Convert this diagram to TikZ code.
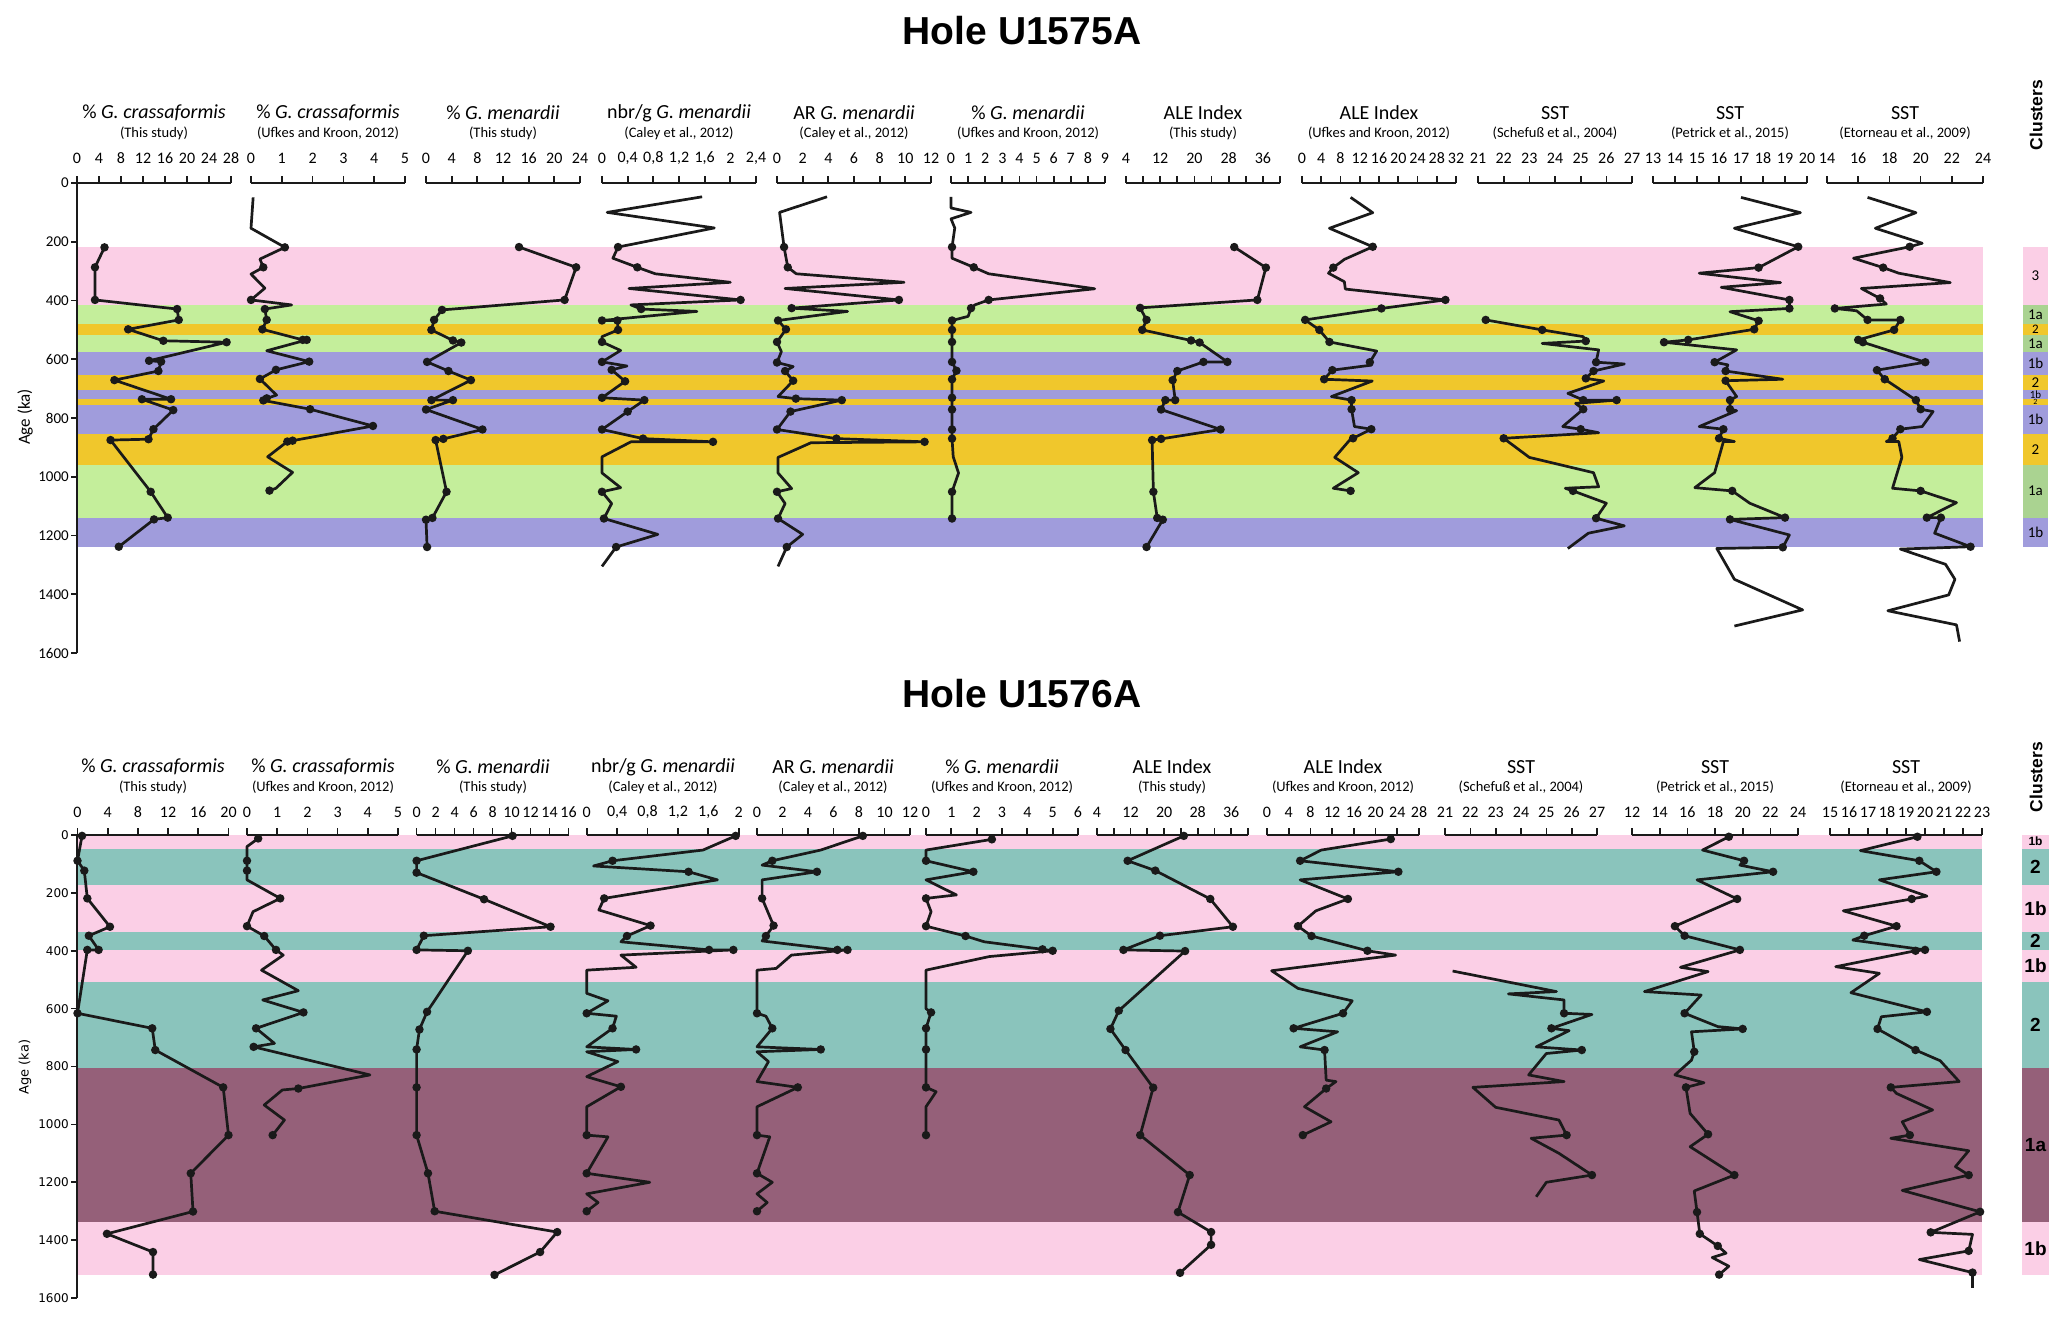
\documentclass[tikz,border=0pt]{standalone}
\usepackage{fontspec}
\setmainfont{Carlito}
\newfontfamily\lsans{Liberation Sans}
\newfontfamily\djv{DejaVu Sans}
\definecolor{cpink}{HTML}{FBCFE6}
\definecolor{cgreen}{HTML}{C4EE9B}
\definecolor{cgreenk}{HTML}{AAD391}
\definecolor{cyell}{HTML}{F0C72C}
\definecolor{cpurp}{HTML}{A09CDC}
\definecolor{cteal}{HTML}{8AC4BC}
\definecolor{cmaroon}{HTML}{956079}
\definecolor{ink}{HTML}{1A1A1A}
\newcommand\fs[1]{\fontsize{#1}{#1}\selectfont}
% horizontal axis: start, min, max, width, y0, ticks, value/label list, label offset
\newcommand\hax[8]{%
 \pgfmathsetmacro\xs{#4/(#3-#2)}%
 \draw[axisl] (#1,#5) -- ++(#4,0);
 \foreach \t in {#6} \draw[axisl] ({#1+(\t-#2)*\xs},#5) -- ++(0,-7);
 \foreach \t/\l in {#7} \node[ticklab] at ({#1+(\t-#2)*\xs},{#5-#8}) {\l};
}
% data scope: start, min, max, width, y0, yscale
\newcommand\pbeg[6]{\pgfmathsetmacro\sx{#4/(#3-#2)}\pgfmathsetmacro\ox{#1-#2*\sx}\begin{scope}[shift={(\ox,#5)},xscale=\sx,yscale=#6]}
% curve: first point, rest (comma list)
\newcommand\crv[2]{\draw[crv] #1 \foreach \p in {#2}{-- \p};}
\newcommand\dts[1]{\foreach \p in {#1} \node[dot] at \p {};}
\newcommand\crvd[2]{\crv{#1}{#2}\node[dot] at #1 {};\dts{#2}}
% header: centre x, title y, title, subtitle
\newcommand\phead[4]{\node[ptitle] at (#1,#2) {#3}; \node[psub] at (#1,{#2+20}) {#4};}
\begin{document}
\begin{tikzpicture}[x=1pt,y=-1pt,
 axisl/.style={line width=1.7pt, ink},
 crv/.style={line width=2.7pt, ink, line join=round},
 dot/.style={circle, fill=ink, inner sep=0pt, minimum size=8.5pt},
 ticklab/.style={font=\fs{16}, inner sep=0pt},
 ptitle/.style={font=\fs{20}, inner sep=0pt},
 psub/.style={font=\fs{14.5}, inner sep=0pt},
 ylabA/.style={font=\fs{15}, anchor=east, inner sep=0pt},
 ylabB/.style={font=\djv\fs{12}, anchor=east, inner sep=0pt},
 clA/.style={font=\fs{15}, inner sep=0pt},
 clB/.style={font=\lsans\bfseries\fs{19}, inner sep=0pt}]
\useasboundingbox (0,0) rectangle (2067,1322);
\fill[white] (0,0) rectangle (2067,1322);

% ================= TITLES =================
\node[font=\lsans\bfseries\fs{39}] (t1) at (1022,31) {Hole U1575A};
\node[font=\lsans\bfseries\fs{39}] (t2) at (1022,694) {Hole U1576A};
\node[font=\lsans\bfseries\fs{17.5}, rotate=90] (cl1) at (2036,115) {Clusters};
\node[font=\lsans\bfseries\fs{17.5}, rotate=90] (cl2) at (2036,777) {Clusters};
\node[font=\fs{17}, rotate=90] (age1) at (25,417) {Age (ka)};
\node[font=\djv\fs{13}, rotate=90] (age2) at (25,1067) {Age (ka)};

% ================= BANDS TOP =================
\begin{scope}[shift={(0,183)},yscale=0.2938]
\fill[cpink] (77,218) rectangle (1983,415);
\fill[cgreen] (77,415) rectangle (1983,480);
\fill[cyell] (77,480) rectangle (1983,517);
\fill[cgreen] (77,517) rectangle (1983,575);
\fill[cpurp] (77,575) rectangle (1983,653);
\fill[cyell] (77,653) rectangle (1983,704);
\fill[cpurp] (77,704) rectangle (1983,735);
\fill[cyell] (77,735) rectangle (1983,755);
\fill[cpurp] (77,755) rectangle (1983,853);
\fill[cyell] (77,853) rectangle (1983,959);
\fill[cgreen] (77,959) rectangle (1983,1140);
\fill[cpurp] (77,1140) rectangle (1983,1238);
% cluster column
\fill[cpink] (2023,218) rectangle (2048,415);
\fill[cgreenk] (2023,415) rectangle (2048,480);
\fill[cyell] (2023,480) rectangle (2048,517);
\fill[cgreenk] (2023,517) rectangle (2048,575);
\fill[cpurp] (2023,575) rectangle (2048,653);
\fill[cyell] (2023,653) rectangle (2048,704);
\fill[cpurp] (2023,704) rectangle (2048,735);
\fill[cyell] (2023,735) rectangle (2048,755);
\fill[cpurp] (2023,755) rectangle (2048,853);
\fill[cyell] (2023,853) rectangle (2048,959);
\fill[cgreenk] (2023,959) rectangle (2048,1140);
\fill[cpurp] (2023,1140) rectangle (2048,1238);
\node[clA] (ca1) at (2035.5,316) {3};
\node[clA] (ca2) at (2035.5,447) {1a};
\node[clA,font=\fs{13}] (ca3) at (2035.5,498) {2};
\node[clA] (ca4) at (2035.5,546) {1a};
\node[clA] (ca5) at (2035.5,614) {1b};
\node[clA] (ca6) at (2035.5,678) {2};
\node[clA,font=\fs{11}] (ca7) at (2035.5,719) {1b};
\node[clA,font=\fs{8}] (ca8) at (2035.5,745) {2};
\node[clA] (ca9) at (2035.5,804) {1b};
\node[clA] (ca10) at (2035.5,906) {2};
\node[clA] (ca11) at (2035.5,1049) {1a};
\node[clA] (ca12) at (2035.5,1189) {1b};
\end{scope}

% ================= BANDS BOTTOM =================
\begin{scope}[shift={(0,835)},yscale=0.2894]
\fill[cpink] (77,0) rectangle (1982,47);
\fill[cteal] (77,47) rectangle (1982,174);
\fill[cpink] (77,174) rectangle (1982,334);
\fill[cteal] (77,334) rectangle (1982,397);
\fill[cpink] (77,397) rectangle (1982,509);
\fill[cteal] (77,509) rectangle (1982,805);
\fill[cmaroon] (77,805) rectangle (1982,1338);
\fill[cpink] (77,1338) rectangle (1982,1519);
\fill[cpink] (2022,0) rectangle (2049,47);
\fill[cteal] (2022,47) rectangle (2049,174);
\fill[cpink] (2022,174) rectangle (2049,334);
\fill[cteal] (2022,334) rectangle (2049,397);
\fill[cpink] (2022,397) rectangle (2049,509);
\fill[cteal] (2022,509) rectangle (2049,805);
\fill[cmaroon] (2022,805) rectangle (2049,1338);
\fill[cpink] (2022,1338) rectangle (2049,1519);
\node[clB,font=\lsans\bfseries\fs{12}] (cb1) at (2035.5,22) {1b};
\node[clB] (cb2) at (2035.5,110) {2};
\node[clB] (cb3) at (2035.5,254) {1b};
\node[clB] (cb4) at (2035.5,365) {2};
\node[clB] (cb5) at (2035.5,453) {1b};
\node[clB] (cb6) at (2035.5,657) {2};
\node[clB] (cb7) at (2035.5,1071) {1a};
\node[clB] (cb8) at (2035.5,1428) {1b};
\end{scope}

% ================= Y AXES =================
\draw[axisl] (77,183) -- (77,653);
\foreach \a in {0,200,...,1600} {
 \draw[axisl] (77,{183+0.2938*\a}) -- ++(-6,0);
 \node[ylabA] at (69,{183+0.2938*\a}) {\a};}
\draw[axisl] (77,835) -- (77,1298);
\foreach \a in {0,200,...,1600} {
 \draw[axisl] (77,{835+0.2894*\a}) -- ++(-6,0);
 \node[ylabB] at (69,{835+0.2894*\a}) {\a};}

% ================= TOP HEADERS & AXES =================
\phead{154}{113}{\% \textit{G. crassaformis}}{(This study)}
\phead{328}{113}{\% \textit{G. crassaformis}}{(Ufkes and Kroon, 2012)}
\phead{503}{113}{\% \textit{G. menardii}}{(This study)}
\phead{679}{113}{nbr/g \textit{G. menardii}}{(Caley et al., 2012)}
\phead{854}{113}{AR \textit{G. menardii}}{(Caley et al., 2012)}
\phead{1028}{113}{\% \textit{G. menardii}}{(Ufkes and Kroon, 2012)}
\phead{1203}{113}{ALE Index}{(This study)}
\phead{1379}{113}{ALE Index}{(Ufkes and Kroon, 2012)}
\phead{1555}{113}{SST}{(Schefuß et al., 2004)}
\phead{1730}{113}{SST}{(Petrick et al., 2015)}
\phead{1905}{113}{SST}{(Etorneau et al., 2009)}

\hax{77}{0}{28}{154}{183}{0,4,...,28}{0/0,4/4,8/8,12/12,16/16,20/20,24/24,28/28}{25}
\hax{251}{0}{5}{154}{183}{0,1,...,5}{0/0,1/1,2/2,3/3,4/4,5/5}{25}
\hax{426}{0}{24}{154}{183}{0,4,...,24}{0/0,4/4,8/8,12/12,16/16,20/20,24/24}{25}
\hax{602}{0}{2.4}{154}{183}{0,0.4,0.8,1.2,1.6,2,2.4}{0/0,0.4/{0,4},0.8/{0,8},1.2/{1,2},1.6/{1,6},2/2,2.4/{2,4}}{25}
\hax{777}{0}{12}{154}{183}{0,2,...,12}{0/0,2/2,4/4,6/6,8/8,10/10,12/12}{25}
\hax{951}{0}{9}{154}{183}{0,1,...,9}{0/0,1/1,2/2,3/3,4/4,5/5,6/6,7/7,8/8,9/9}{25}
\hax{1126}{4}{40}{154}{183}{4,8,...,40}{4/4,12/12,20/20,28/28,36/36}{25}
\hax{1302}{0}{32}{154}{183}{0,4,...,32}{0/0,4/4,8/8,12/12,16/16,20/20,24/24,28/28,32/32}{25}
\hax{1478}{21}{27}{154}{183}{21,22,...,27}{21/21,22/22,23/23,24/24,25/25,26/26,27/27}{25}
\hax{1653}{13}{20}{154}{183}{13,14,...,20}{13/13,14/14,15/15,16/16,17/17,18/18,19/19,20/20}{25}
\hax{1827}{14}{24}{156}{183}{14,16,...,24}{14/14,16/16,18/18,20/20,22/22,24/24}{25}

% ================= BOTTOM HEADERS & AXES =================
\phead{153}{767}{\% \textit{G. crassaformis}}{(This study)}
\phead{323}{767}{\% \textit{G. crassaformis}}{(Ufkes and Kroon, 2012)}
\phead{493}{767}{\% \textit{G. menardii}}{(This study)}
\phead{663}{767}{nbr/g \textit{G. menardii}}{(Caley et al., 2012)}
\phead{833}{767}{AR \textit{G. menardii}}{(Caley et al., 2012)}
\phead{1002}{767}{\% \textit{G. menardii}}{(Ufkes and Kroon, 2012)}
\phead{1172}{767}{ALE Index}{(This study)}
\phead{1343}{767}{ALE Index}{(Ufkes and Kroon, 2012)}
\phead{1521}{767}{SST}{(Schefuß et al., 2004)}
\phead{1715}{767}{SST}{(Petrick et al., 2015)}
\phead{1906}{767}{SST}{(Etorneau et al., 2009)}

\hax{77.5}{0}{20}{151}{835}{0,4,...,20}{0/0,4/4,8/8,12/12,16/16,20/20}{23}
\hax{247}{0}{5}{151}{835}{0,1,...,5}{0/0,1/1,2/2,3/3,4/4,5/5}{23}
\hax{416.6}{0}{16}{152}{835}{0,2,...,16}{0/0,2/2,4/4,6/6,8/8,10/10,12/12,14/14,16/16}{23}
\hax{586.7}{0}{2}{152}{835}{0,0.4,0.8,1.2,1.6,2}{0/0,0.4/{0,4},0.8/{0,8},1.2/{1,2},1.6/{1,6},2/2}{23}
\hax{757}{0}{12}{153}{835}{0,2,...,12}{0/0,2/2,4/4,6/6,8/8,10/10,12/12}{23}
\hax{926}{0}{6}{152}{835}{0,1,...,6}{0/0,1/1,2/2,3/3,4/4,5/5,6/6}{23}
\hax{1097}{4}{40}{151}{835}{4,8,...,40}{4/4,12/12,20/20,28/28,36/36}{23}
\hax{1267}{0}{28}{152}{835}{0,4,...,28}{0/0,4/4,8/8,12/12,16/16,20/20,24/24,28/28}{23}
\hax{1445}{21}{27}{152}{835}{21,22,...,27}{21/21,22/22,23/23,24/24,25/25,26/26,27/27}{23}
\hax{1632}{12}{24}{166}{835}{12,14,...,24}{12/12,14/14,16/16,18/18,20/20,22/22,24/24}{23}
\hax{1830}{15}{23}{152}{835}{15,16,...,23}{15/15,16/16,17/17,18/18,19/19,20/20,21/21,22/22,23/23}{23}

% ================= TOP DATA =================
\pbeg{77}{0}{28}{154}{183}{0.2938}
\crvd{(5.0,219)}{(3.27,287),(3.27,398),(18.2,429),(18.5,466),(9.3,498),(15.7,537),(27.2,542),(13.1,605),(15.3,608),(14.8,640),(6.8,671),(17.1,736),(11.8,736),(17.5,773),(13.9,838),(13.0,872),(6.1,875),(13.4,1051),(16.5,1139),(14.0,1145),(7.6,1238)}
\end{scope}

\pbeg{251}{0}{5}{154}{183}{0.2938}
\crv{(0.07,49)}{(0,154),(1.10,219),(0.29,259),(0.40,287),(0,310),(0.45,358),(0,398),(1.32,415),(0.45,429),(0.51,466),(0.37,498),(1.68,534),(1.81,534),(0.51,571),(1.89,608),(0.81,636),(0.29,667),(0.83,722),(0.51,733),(0.40,740),(1.92,770),(3.96,827),(1.35,877),(1.18,880),(0.54,932),(1.35,985),(0.81,1039),(0.60,1047)}
\dts{(1.10,219),(0.40,287),(0,398),(0.45,429),(0.51,466),(0.37,498),(1.68,534),(1.81,534),(1.89,608),(0.81,636),(0.29,667),(0.51,733),(0.40,740),(1.92,770),(3.96,827),(1.35,877),(1.18,880),(0.60,1047)}
\end{scope}

\pbeg{426}{0}{24}{154}{183}{0.2938}
\crvd{(14.5,218)}{(23.4,287),(21.6,398),(2.5,432),(1.26,466),(0.84,500),(4.2,536),(5.5,543),(0.17,609),(3.5,640),(7.0,671),(0.84,739),(4.2,739),(0,771),(8.8,839),(2.7,871),(1.5,875),(3.2,1051),(1.0,1140),(0,1146),(0.17,1239)}
\end{scope}

\pbeg{602}{0}{2.4}{154}{183}{0.2938}
\crv{(1.56,47)}{(0.08,100),(1.75,153),(0.25,218),(0.17,256),(0.55,287),(0.83,309),(2.0,338),(0.42,359),(2.16,398),(0.45,415),(0.61,429),(1.48,437),(0,468),(0.24,468),(0.25,500),(0,523),(0,541),(0.29,570),(0,609),(0.39,623),(0.15,636),(0.36,675),(0,731),(0.66,739),(0.40,778),(0,839),(0.64,870),(1.73,881),(0.45,881),(0,932),(0,987),(0.29,1037),(0,1051),(0.15,1091),(0.03,1142),(0.87,1196),(0.22,1239),(0,1305)}
\dts{(0.25,218),(0.55,287),(2.16,398),(0.61,429),(0,468),(0.24,468),(0.25,500),(0,541),(0,609),(0.15,636),(0.36,675),(0,731),(0.66,739),(0.40,778),(0,839),(0.64,870),(1.73,881),(0,1051),(0.03,1142),(0.22,1239)}
\end{scope}

\pbeg{777}{0}{12}{154}{183}{0.2938}
\crv{(3.9,47)}{(0.2,100),(0.55,218),(0.84,287),(1.5,309),(9.9,338),(0.63,359),(9.5,398),(1.14,426),(5.5,437),(0.08,468),(0.7,498),(0,541),(0.34,574),(0,611),(1.26,625),(0.63,640),(1.26,673),(0.08,727),(1.47,734),(5.05,739),(1.05,778),(0,839),(4.63,870),(11.5,881),(2.65,884),(0.08,934),(0.08,987),(1.14,1040),(0,1051),(0.63,1091),(0.08,1142),(2.0,1196),(0.76,1239),(0.08,1305)}
\dts{(0.55,218),(0.84,287),(9.5,398),(1.14,426),(0.08,468),(0.7,498),(0,541),(0,611),(0.63,640),(1.26,673),(1.47,734),(5.05,739),(1.05,778),(0,839),(4.63,870),(11.5,881),(0,1051),(0.08,1142),(0.76,1239)}
\end{scope}

\pbeg{951}{0}{9}{154}{183}{0.2938}
\crv{(0,47)}{(0,85),(1.17,100),(0,122),(0.22,153),(0.06,218),(0.06,256),(1.33,287),(2.2,309),(8.4,360),(2.2,398),(1.39,415),(1.17,426),(1.0,454),(0.06,468),(0.06,500),(0.06,541),(0.06,609),(0.32,639),(0.06,668),(0.06,731),(0.06,771),(0.06,839),(0.06,870),(0.13,932),(0.44,987),(0.06,1051),(0.06,1142)}
\dts{(0.06,218),(1.33,287),(2.2,398),(1.17,426),(0.06,468),(0.06,500),(0.06,541),(0.06,609),(0.32,639),(0.06,668),(0.06,731),(0.06,771),(0.06,839),(0.06,870),(0.06,1051),(0.06,1142)}
\end{scope}

\pbeg{1126}{4}{40}{154}{183}{0.2938}
\crvd{(29.3,218)}{(36.7,288),(34.7,398),(7.3,425),(8.8,466),(7.8,500),(19.2,536),(21.2,543),(27.7,609),(22.1,609),(16.0,640),(14.9,671),(15.5,739),(13.2,739),(12.2,771),(26.1,839),(12.2,871),(10.1,875),(10.4,1051),(11.3,1140),(12.6,1146),(8.8,1239)}
\end{scope}

\pbeg{1302}{0}{32}{154}{183}{0.2938}
\crv{(10.1,49)}{(14.7,101),(5.7,154),(14.7,217),(8.8,260),(6.5,288),(5.5,307),(8.8,336),(9.0,361),(29.8,398),(16.5,427),(0.65,466),(3.6,500),(5.7,541),(15.5,572),(14.1,610),(14.4,620),(6.3,637),(4.6,668),(14.6,674),(6.1,727),(10.3,739),(10.3,770),(10.9,829),(14.4,838),(10.6,869),(9.8,877),(6.8,934),(11.7,986),(6.5,1039),(10.1,1048)}
\dts{(14.7,217),(6.5,288),(29.8,398),(16.5,427),(0.65,466),(3.6,500),(5.7,541),(14.1,610),(6.3,637),(4.6,668),(10.3,739),(10.3,770),(14.4,838),(10.6,869),(10.1,1048)}
\end{scope}

\pbeg{1478}{21}{27}{154}{183}{0.2938}
\crv{(21.3,466)}{(23.5,500),(25.1,523),(25.2,538),(23.5,546),(25.7,568),(25.6,610),(26.7,616),(25.5,640),(25.2,665),(25.9,674),(24.5,716),(25.1,739),(26.4,739),(24.8,750),(25.1,770),(24.3,829),(25.0,838),(25.7,850),(22.0,869),(23.0,934),(25.5,986),(25.7,1034),(24.4,1039),(24.7,1048),(26.0,1090),(25.6,1141),(26.7,1167),(25.3,1192),(24.5,1244)}
\dts{(21.3,466),(23.5,500),(25.2,538),(25.6,610),(25.5,640),(25.2,665),(25.1,739),(26.4,739),(25.1,770),(25.0,838),(22.0,869),(24.7,1048),(25.6,1141)}
\end{scope}

\pbeg{1653}{13}{20}{154}{183}{0.2938}
\crv{(17.0,49)}{(19.7,101),(16.7,154),(19.6,217),(17.8,288),(15.1,307),(18.8,339),(16.1,355),(19.2,398),(19.2,427),(16.5,438),(17.8,469),(17.6,498),(14.6,534),(13.5,542),(16.8,568),(15.8,610),(16.4,619),(16.3,640),(18.9,668),(16.3,673),(16.8,727),(16.5,739),(16.5,770),(16.8,775),(15.1,829),(16.2,838),(16.0,869),(16.7,880),(16.2,880),(15.8,986),(14.9,1037),(16.6,1048),(17.4,1090),(19.0,1139),(16.5,1145),(19.2,1198),(18.9,1240),(15.9,1244),(16.7,1349),(19.8,1453),(16.7,1508)}
\dts{(19.6,217),(17.8,288),(19.2,398),(19.2,427),(17.8,469),(17.6,498),(14.6,534),(13.5,542),(15.8,610),(16.3,640),(16.3,673),(16.5,739),(16.5,770),(16.2,838),(16.0,869),(16.6,1048),(19.0,1139),(16.5,1145),(18.9,1240)}
\end{scope}

\pbeg{1827}{14}{24}{156}{183}{0.2938}
\crv{(16.6,49)}{(19.7,101),(17.1,154),(20.1,205),(19.3,217),(15.7,256),(17.6,288),(18.6,307),(21.9,339),(16.2,359),(17.4,393),(17.8,412),(14.5,427),(15.9,435),(16.6,466),(18.7,466),(18.3,500),(16.0,534),(16.3,542),(20.3,610),(17.2,637),(17.7,668),(19.7,739),(20.0,770),(20.8,778),(20.1,829),(18.7,838),(18.2,869),(17.8,880),(18.6,880),(18.8,934),(18.2,1039),(20.0,1048),(22.3,1088),(20.4,1139),(21.3,1139),(20.9,1192),(23.2,1238),(18.7,1246),(21.6,1298),(22.2,1349),(21.8,1402),(17.9,1456),(22.3,1504),(22.5,1561)}
\dts{(19.3,217),(17.6,288),(17.4,393),(14.5,427),(16.6,466),(18.7,466),(18.3,500),(16.0,534),(16.3,542),(20.3,610),(17.2,637),(17.7,668),(19.7,739),(20.0,770),(18.7,838),(18.2,869),(20.0,1048),(20.4,1139),(21.3,1139),(23.2,1238)}
\end{scope}

% ================= BOTTOM DATA =================
\pbeg{77.5}{0}{20}{151}{835}{0.2894}
\crvd{(0.6,3)}{(0,89),(0.9,123),(1.3,219),(4.3,317),(1.5,348),(2.8,397),(1.3,397),(0,616),(9.9,668),(10.3,743),(19.3,872),(20,1037),(15.0,1169),(15.3,1301),(3.9,1378),(10.0,1441),(10.0,1519)}
\end{scope}

\pbeg{247}{0}{5}{151}{835}{0.2894}
\crv{(0.37,12)}{(0,40),(0,89),(0,123),(0,155),(1.1,219),(0.2,265),(0,315),(0.57,349),(0.96,397),(1.2,415),(0.48,467),(1.7,538),(0.52,570),(1.87,613),(0.3,668),(0.91,720),(0.22,732),(4.07,829),(1.7,876),(1.17,881),(0.57,933),(1.24,985),(0.85,1037)}
\dts{(0.37,12),(0,89),(0,123),(1.1,219),(0,315),(0.57,349),(0.96,397),(1.87,613),(0.3,668),(0.22,732),(1.7,876),(0.85,1037)}
\end{scope}

\pbeg{416.6}{0}{16}{152}{835}{0.2894}
\crvd{(10.1,3)}{(0,89),(0,130),(7.1,222),(14.1,317),(0.76,348),(0,397),(5.4,400),(1.1,611),(0.3,672),(0,741),(0,872),(0,1037),(1.2,1169),(1.9,1300),(14.8,1372),(13.0,1441),(8.2,1520)}
\end{scope}

\pbeg{586.7}{0}{2}{152}{835}{0.2894}
\crv{(1.96,3)}{(1.53,52),(0.34,89),(0.09,107),(1.34,127),(1.72,155),(0.23,219),(0.16,259),(0.84,313),(0.53,349),(0.45,369),(1.61,397),(1.93,397),(0.45,415),(0.65,457),(0,467),(0,547),(0.28,573),(0,616),(0.39,626),(0.34,668),(0,732),(0.65,741),(0,749),(0.41,783),(0,835),(0.45,870),(0,939),(0,1037),(0.28,1043),(0,1169),(0.83,1200),(0,1240),(0.15,1270),(0,1300)}
\dts{(1.96,3),(0.34,89),(1.34,127),(0.23,219),(0.84,313),(0.53,349),(1.61,397),(1.93,397),(0,616),(0.34,668),(0.65,741),(0.45,870),(0,1037),(0,1169),(0,1300)}
\end{scope}

\pbeg{757}{0}{12}{153}{835}{0.2894}
\crv{(8.3,3)}{(5.0,52),(1.2,89),(0.4,104),(4.7,127),(0.4,155),(0.4,219),(1.3,313),(0.7,349),(0.4,366),(6.3,397),(7.1,397),(2.7,415),(1.5,461),(0,467),(0,616),(0.7,626),(1.2,668),(0,732),(5.0,741),(0,749),(0.9,783),(0,852),(3.2,872),(0,939),(0,1037),(1.0,1043),(0,1169),(1.2,1200),(0,1240),(0.8,1270),(0,1300)}
\dts{(8.3,3),(1.2,89),(4.7,127),(0.4,219),(1.3,313),(0.7,349),(6.3,397),(7.1,397),(0,616),(1.2,668),(5.0,741),(3.2,872),(0,1037),(0,1169),(0,1300)}
\end{scope}

\pbeg{926}{0}{6}{152}{835}{0.2894}
\crv{(2.6,15)}{(0,52),(0,89),(1.87,127),(0,155),(1.2,207),(0,219),(0.2,265),(0,315),(1.56,349),(2.3,369),(4.6,395),(5.0,400),(2.5,420),(0,467),(0,600),(0.2,613),(0,668),(0,741),(0,872),(0.4,887),(0,939),(0,1037)}
\dts{(2.6,15),(0,89),(1.87,127),(0,219),(0,315),(1.56,349),(4.6,395),(5.0,400),(0.2,613),(0,668),(0,741),(0,872),(0,1037)}
\end{scope}

\pbeg{1097}{4}{40}{151}{835}{0.2894}
\crvd{(24.7,3)}{(11.3,89),(17.9,123),(31.0,221),(36.4,317),(19.0,348),(10.3,397),(25.0,401),(9.2,607),(7.2,670),(10.8,743),(17.4,873),(14.3,1037),(26.1,1175),(23.3,1303),(31.2,1372),(31.2,1416),(23.8,1513)}
\end{scope}

\pbeg{1267}{0}{28}{152}{835}{0.2894}
\crv{(22.8,14)}{(10.0,52),(6.1,89),(24.2,127),(6.1,155),(14.9,221),(9.0,262),(5.7,315),(8.2,349),(18.5,400),(23.7,415),(0.85,469),(5.7,530),(15.7,573),(14.0,616),(4.9,668),(13.0,680),(6.1,732),(10.6,743),(10.9,847),(12.7,852),(10.9,876),(6.9,939),(11.8,991),(6.6,1037)}
\dts{(22.8,14),(6.1,89),(24.2,127),(14.9,221),(5.7,315),(8.2,349),(18.5,400),(14.0,616),(4.9,668),(10.6,743),(10.9,876),(6.6,1037)}
\end{scope}

\pbeg{1445}{21}{27}{152}{835}{0.2894}
\crv{(21.3,470)}{(25.4,541),(23.5,549),(25.7,570),(25.7,616),(26.8,620),(25.2,668),(25.9,676),(24.6,732),(26.4,743),(25.0,755),(24.3,829),(25.7,852),(22.1,872),(23.0,941),(25.5,985),(25.8,1037),(24.4,1048),(25.5,1100),(26.8,1175),(25.0,1200),(24.6,1250)}
\dts{(25.7,616),(25.2,668),(26.4,743),(25.8,1037),(26.8,1175)}
\end{scope}

\pbeg{1632}{12}{24}{166}{835}{0.2894}
\crv{(19.0,6)}{(17.1,52),(20.1,89),(19.8,104),(22.2,127),(16.7,155),(19.6,221),(15.1,315),(15.8,348),(19.8,397),(15.5,457),(17.5,472),(12.9,541),(17.0,553),(15.8,616),(18.2,662),(20.0,670),(16.3,680),(16.5,749),(16.3,778),(15.1,829),(17.2,856),(15.9,872),(16.2,962),(17.5,1034),(16.2,1077),(19.4,1175),(16.5,1230),(16.7,1303),(16.9,1378),(18.2,1420),(18.8,1445),(17.8,1460),(19.0,1490),(18.3,1519)}
\dts{(19.0,6),(20.1,89),(22.2,127),(19.6,221),(15.1,315),(15.8,348),(19.8,397),(15.8,616),(20.0,670),(16.5,749),(15.9,872),(17.5,1034),(19.4,1175),(16.7,1303),(16.9,1378),(18.2,1420),(18.3,1519)}
\end{scope}

\pbeg{1830}{15}{23}{152}{835}{0.2894}
\crv{(19.6,6)}{(16.6,54),(19.7,89),(20.6,127),(17.6,155),(20.1,211),(19.3,221),(15.7,262),(18.5,315),(16.8,348),(16.2,363),(20.0,397),(19.5,400),(15.3,455),(17.6,478),(16.1,545),(20.1,611),(17.7,628),(17.5,670),(19.5,743),(20.8,780),(21.8,852),(18.2,872),(18.5,893),(20.4,950),(18.8,991),(19.2,1037),(18.2,1048),(22.3,1091),(21.6,1146),(22.3,1175),(18.8,1228),(22.9,1302),(20.3,1373),(22.5,1380),(22.3,1437),(19.7,1467),(22.5,1512),(22.5,1565)}
\dts{(19.6,6),(19.7,89),(20.6,127),(19.3,221),(18.5,315),(16.8,348),(20.0,397),(19.5,400),(20.1,611),(17.5,670),(19.5,743),(18.2,872),(19.2,1037),(22.3,1175),(22.9,1302),(20.3,1373),(22.3,1437),(22.5,1512)}
\end{scope}
\end{tikzpicture}
\end{document}
